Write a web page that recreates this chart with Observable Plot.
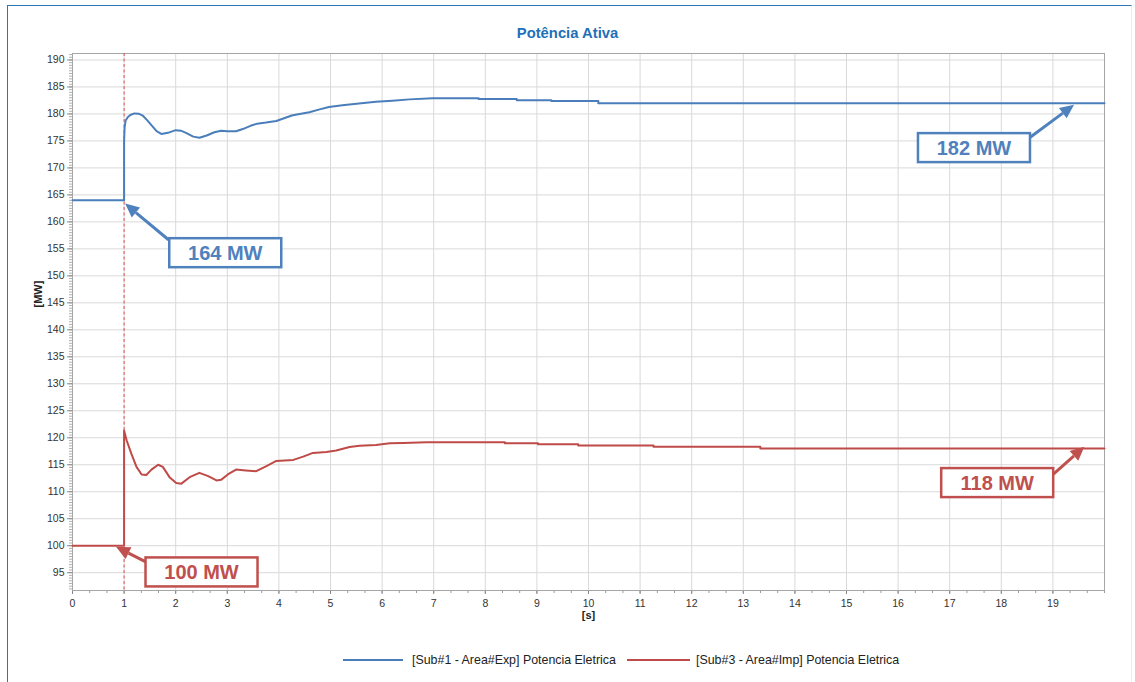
<!DOCTYPE html>
<html>
<head>
<meta charset="utf-8">
<script src="https://cdn.jsdelivr.net/npm/d3@7"></script>
<script src="https://cdn.jsdelivr.net/npm/@observablehq/plot@0.6"></script>
<style>
  body { margin: 0; background: #fff; font-family: "Liberation Sans", Arial, sans-serif; }
  #chart { position: relative; width: 1135px; height: 682px; overflow: hidden; background: #fff; }
  #chart svg { position: absolute; left: 0; top: 0; }
  #border { position: absolute; left: 7px; top: 5px; width: 1123px; height: 700px;
            border-left: 1.5px solid #2e75b6; border-top: 1.5px solid #2e75b6; border-right: 1px solid #e8eef6; }
  #title { position: absolute; left: 0; top: 25px; width: 1135px; text-align: center;
           font-weight: bold; font-size: 14.8px; color: #1f70b8; }
  .key-line { position: absolute; height: 2px; }
  .key-text { position: absolute; font-size: 12.4px; color: #222; white-space: nowrap; line-height: 14px; }
</style>
</head>
<body>
<div id="chart">
  <div id="border"></div>
  <div id="title">Potência Ativa</div>
</div>
<script>
// Active power after the disturbance at t = 1 s (time in seconds, power in MW)
const seriesNames = ["[Sub#1 - Area#Exp] Potencia Eletrica", "[Sub#3 - Area#Imp] Potencia Eletrica"];
const seriesColors = ["#4a7ebb", "#be4b48"];

// Sub#1 (exporting area)
const expTime = [0, 1.0, 1.0, 1.01, 1.03, 1.07, 1.12, 1.2, 1.28, 1.36, 1.45, 1.55, 1.63, 1.72, 1.85, 2.0,
  2.1, 2.2, 2.34, 2.46, 2.6, 2.75, 2.88, 3.0, 3.17, 3.3, 3.45, 3.58, 3.75, 3.95, 4.1, 4.25, 4.4, 4.59,
  4.79, 4.97, 5.23, 5.55, 5.88, 6.2, 6.53, 6.98, 7.87, 7.87, 8.61, 8.61, 9.28, 9.28, 10.19, 10.19, 20];
const expPower = [164, 164, 175, 177.5, 178.8, 179.4, 179.8, 180.1, 180.05, 179.7, 178.8, 177.7, 176.8, 176.3, 176.5, 177.0,
  176.9, 176.5, 175.8, 175.6, 176.0, 176.6, 176.9, 176.8, 176.8, 177.2, 177.8, 178.2, 178.4, 178.7, 179.2, 179.7, 180.0, 180.3,
  180.85, 181.3, 181.6, 181.95, 182.25, 182.45, 182.7, 182.9, 182.9, 182.75, 182.75, 182.55, 182.55, 182.4, 182.4, 182, 182];

// Sub#3 (importing area)
const impTime = [0, 1.0, 1.0, 1.05, 1.14, 1.24, 1.34, 1.43, 1.53, 1.66, 1.75, 1.88, 2.01, 2.11, 2.27, 2.46,
  2.63, 2.79, 2.88, 3.01, 3.17, 3.36, 3.56, 3.75, 3.95, 4.28, 4.47, 4.66, 4.92, 5.11, 5.37, 5.56, 5.88,
  6.15, 6.41, 6.86, 8.38, 8.38, 9.02, 9.02, 9.8, 9.8, 11.26, 11.26, 13.33, 13.33, 20];
const impPower = [100, 100, 121.35, 119.5, 117.05, 114.6, 113.2, 113.1, 114.1, 115.0, 114.6, 112.7, 111.6, 111.5, 112.7, 113.5,
  112.9, 112.1, 112.2, 113.2, 114.1, 113.95, 113.8, 114.7, 115.7, 115.9, 116.5, 117.2, 117.35, 117.65, 118.3, 118.5, 118.65,
  119.0, 119.05, 119.15, 119.15, 119.0, 119.0, 118.8, 118.8, 118.55, 118.55, 118.35, 118.35, 118, 118];

const xTicks = [0, 1, 2, 3, 4, 5, 6, 7, 8, 9, 10, 11, 12, 13, 14, 15, 16, 17, 18, 19];
const yTicks = [95, 100, 105, 110, 115, 120, 125, 130, 135, 140, 145, 150, 155, 160, 165, 170, 175, 180, 185, 190];
const disturbanceTime = 1;

const expRows = expTime.map((t, i) => ({t, p: expPower[i]}));
const impRows = impTime.map((t, i) => ({t, p: impPower[i]}));

// Pre- and post-disturbance levels, each with the point it labels and its box placement
const levelNotes = [
  {series: 0, value: expPower[0], box: [2.97, 154.2], from: [1.87, 156.6], to: [1.03, 163.3]},
  {series: 0, value: expPower[expPower.length - 1], box: [17.48, 173.67], from: [18.57, 175.6], to: [19.42, 181.6]},
  {series: 1, value: impPower[0], box: [2.51, 95.05], from: [1.43, 96.9], to: [0.853, 99.7]},
  {series: 1, value: impPower[impPower.length - 1], box: [17.93, 111.6], from: [19.02, 113.15], to: [19.62, 118.26]}
];
const noteColors = ["#4f81bd", "#c0504d"];

function drawNotes(index, scales) {
  const g = d3.create("svg:g");
  for (const n of levelNotes) {
    const color = noteColors[n.series];
    const x1 = scales.x(n.from[0]), y1 = scales.y(n.from[1]);
    const x2 = scales.x(n.to[0]), y2 = scales.y(n.to[1]);
    const a = Math.atan2(y2 - y1, x2 - x1), L = 14, W = 6.5;
    const hx = x2 - L * Math.cos(a), hy = y2 - L * Math.sin(a);
    g.append("line").attr("x1", x1).attr("y1", y1).attr("x2", hx).attr("y2", hy)
      .attr("stroke", color).attr("stroke-width", 3);
    g.append("path")
      .attr("d", `M${x2},${y2}L${hx - W * Math.sin(a)},${hy + W * Math.cos(a)}L${hx + W * Math.sin(a)},${hy - W * Math.cos(a)}Z`)
      .attr("fill", color);
    const bx = scales.x(n.box[0]), by = scales.y(n.box[1]);
    g.append("rect").attr("x", bx - 56).attr("y", by - 14.5).attr("width", 112).attr("height", 29)
      .attr("fill", "#fff").attr("stroke", color).attr("stroke-width", 2.5);
    g.append("text").attr("x", bx).attr("y", by + 7.5).attr("text-anchor", "middle")
      .attr("font-size", 20).attr("font-weight", "bold").attr("fill", color)
      .attr("font-family", "Liberation Sans, Arial, sans-serif")
      .text(`${n.value} MW`);
  }
  return g.node();
}

const plot = Plot.plot({
  width: 1135,
  height: 682,
  marginTop: 53,
  marginLeft: 72,
  marginRight: 31,
  marginBottom: 92,
  x: {domain: [0, 20]},
  y: {domain: [91.7, 191.2]},
  style: {fontFamily: "Liberation Sans, Arial, sans-serif", fontSize: "10.5px", color: "#333", background: "transparent"},
  marks: [
    Plot.gridX(xTicks, {stroke: "#d9d9d9", strokeOpacity: 1}),
    Plot.gridY(yTicks, {stroke: "#d9d9d9", strokeOpacity: 1}),
    Plot.axisY(d3.range(92, 191.01, 0.5), {tickSize: 3, tickFormat: () => "", stroke: "#b0b0b0", label: null}),
    Plot.axisX(d3.range(0, 20.01, 1 / 3), {tickSize: 3, tickFormat: () => "", stroke: "#999", label: null}),
    Plot.axisY(yTicks, {tickSize: 5, tickPadding: 3, stroke: "#888", fill: "#333", label: null}),
    Plot.axisX(xTicks, {tickSize: 4, tickPadding: 5, stroke: "#888", fill: "#333", label: null}),
    Plot.frame({stroke: "#a6a6a6"}),
    Plot.ruleX([disturbanceTime], {stroke: "#d9534f", strokeDasharray: "3,2.5", strokeWidth: 1}),
    Plot.line(expRows, {x: "t", y: "p", stroke: seriesColors[0], strokeWidth: 2}),
    Plot.line(impRows, {x: "t", y: "p", stroke: seriesColors[1], strokeWidth: 2}),
    Plot.text(["[MW]"], {frameAnchor: "left", dx: -34, dy: 53 / 2 - 92 / 2 + 5, rotate: -90, fontWeight: "bold", fontSize: 11, fill: "#222"}),
    Plot.text(["[s]"], {frameAnchor: "bottom", dx: 588 - (72 + 1104) / 2, dy: 28, fontWeight: "bold", fontSize: 11, fill: "#222"}),
    drawNotes
  ]
});

const chart = document.getElementById("chart");
chart.appendChild(plot);

// Legend under the axis
const keyLines = [[343, 60], [627, 63]];
const keyTexts = [412, 696];
seriesNames.forEach((name, i) => {
  const line = document.createElement("div");
  line.className = "key-line";
  line.style.left = keyLines[i][0] + "px";
  line.style.width = keyLines[i][1] + "px";
  line.style.top = "659px";
  line.style.background = seriesColors[i];
  chart.appendChild(line);
  const text = document.createElement("div");
  text.className = "key-text";
  text.style.left = keyTexts[i] + "px";
  text.style.top = "653px";
  text.textContent = name;
  chart.appendChild(text);
});
</script>
</body>
</html>
